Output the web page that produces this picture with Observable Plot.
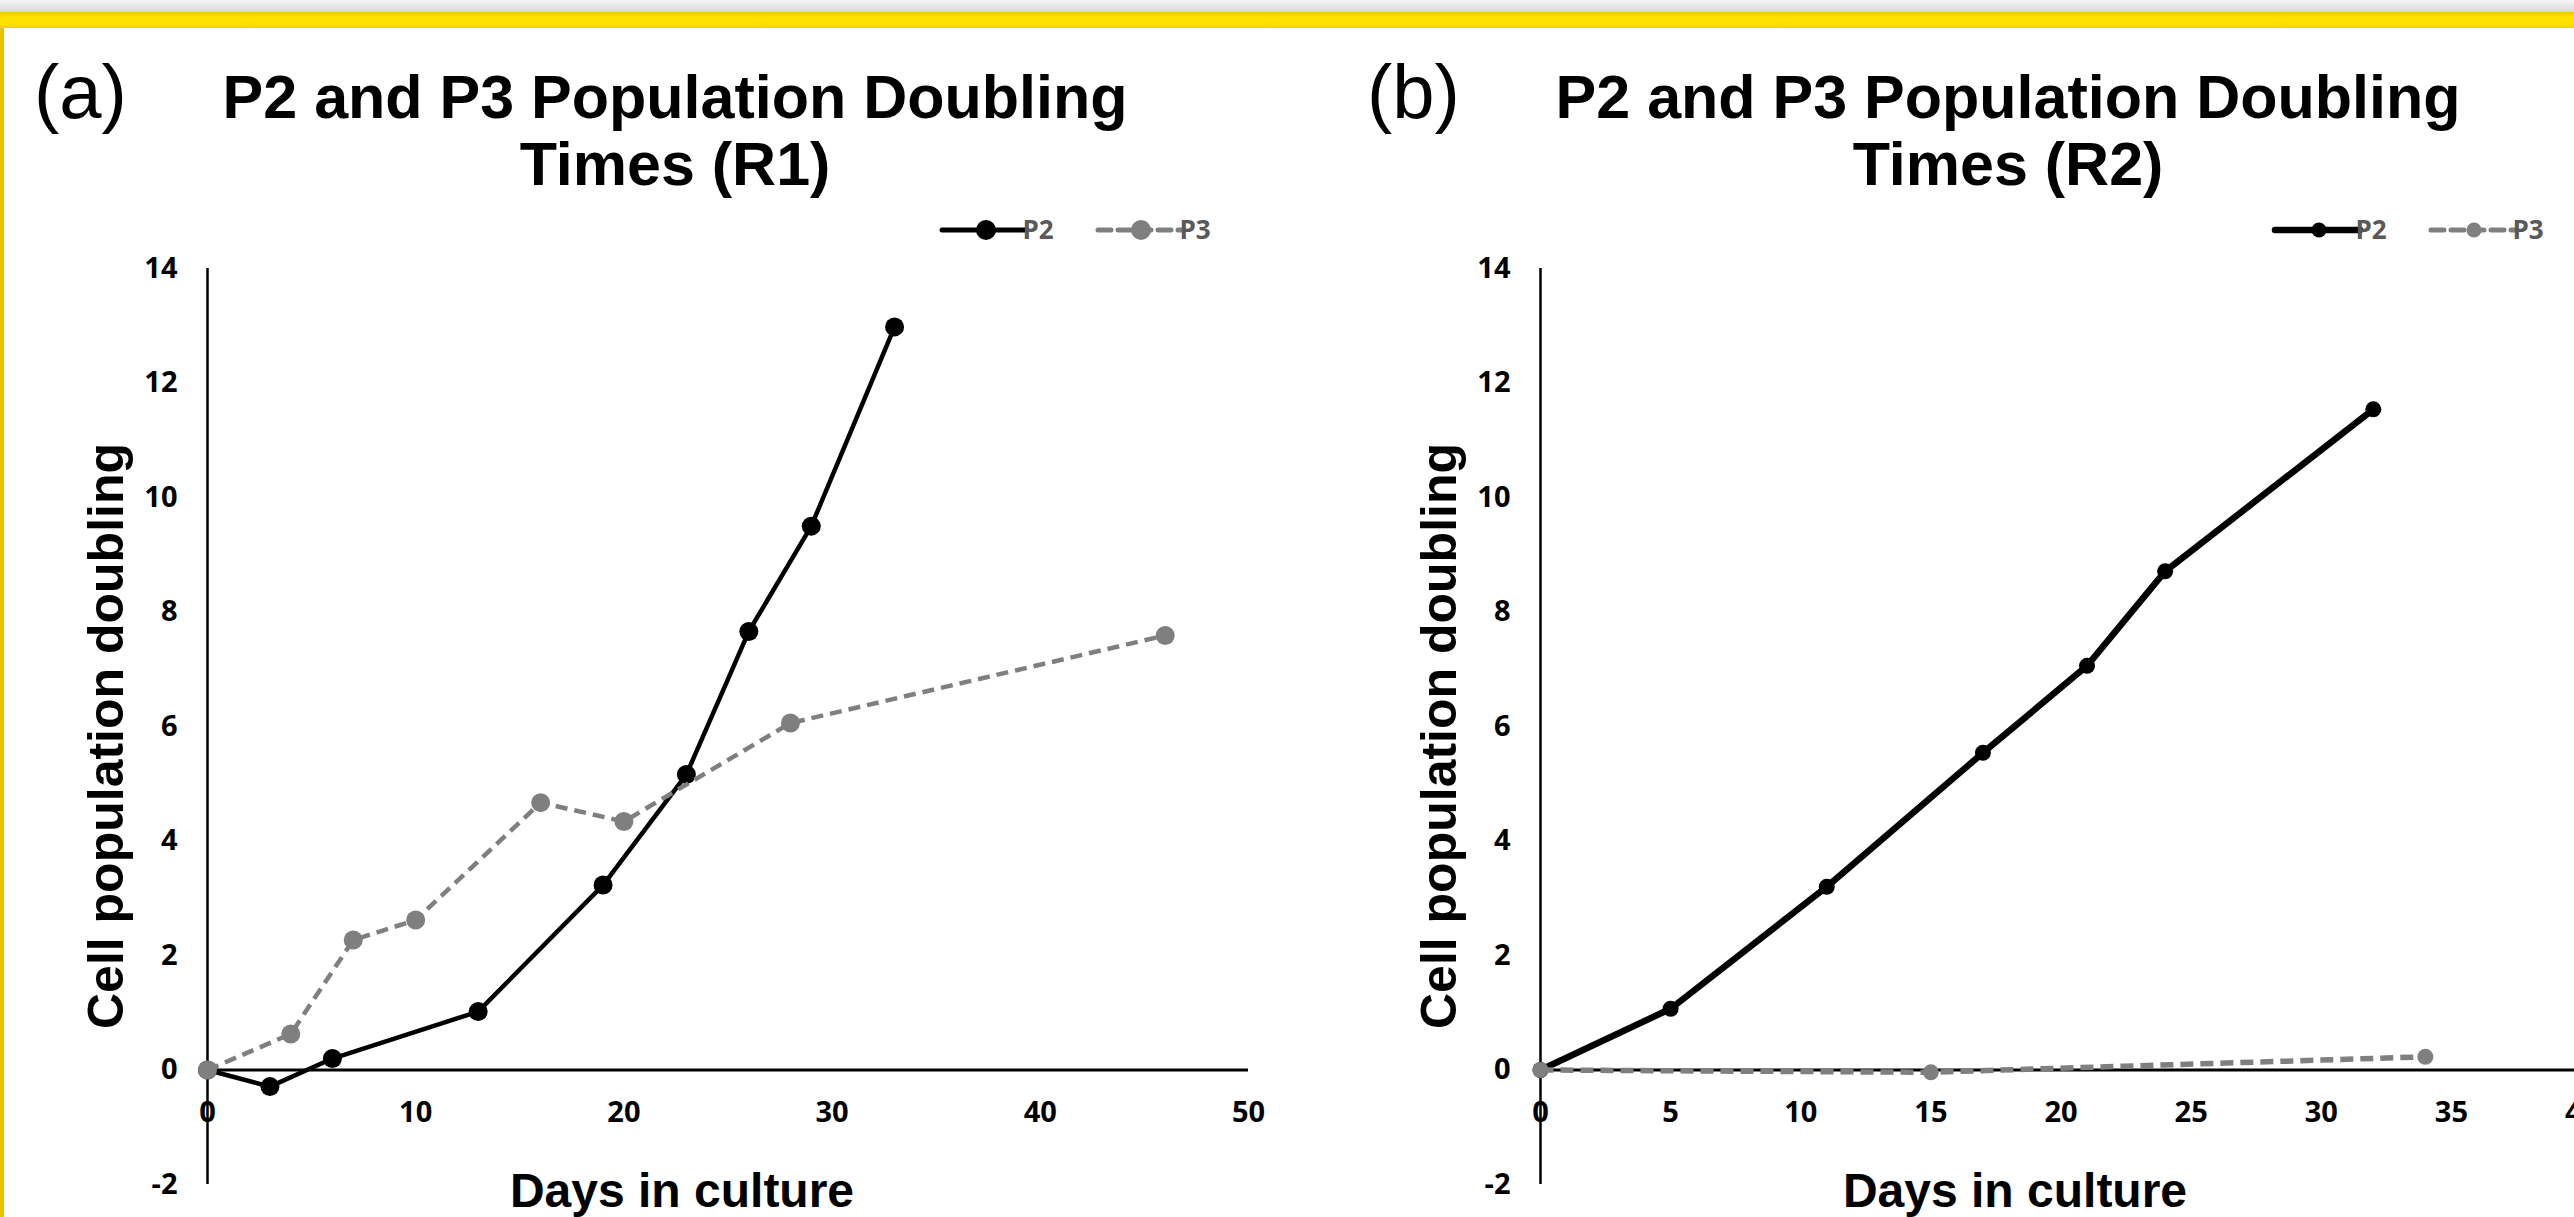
<!DOCTYPE html>
<html><head><meta charset="utf-8">
<script src="https://cdn.jsdelivr.net/npm/d3@7"></script>
<script src="https://cdn.jsdelivr.net/npm/@observablehq/plot@0.6"></script>
<style>
html,body{margin:0;padding:0;background:#fff;}
body{width:2574px;height:1217px;overflow:hidden;position:relative;}
#topbar{position:absolute;left:0;top:0;width:100%;height:12px;background:linear-gradient(#f6f6f6,#d9d9d9);}
#yellow{position:absolute;left:0;top:12px;width:100%;height:16px;background:linear-gradient(#efca00,#ffe200 35%,#ffe000 75%,#f2cf00);}
#leftbar{position:absolute;left:0;top:28px;width:4px;bottom:0;background:#e8c400;}
.panel{position:absolute;top:0;width:1300px;height:1217px;}
.panel svg{position:absolute;left:0;top:0;}
.tag{position:absolute;font-family:"Liberation Sans",Arial,sans-serif;font-size:76px;line-height:84px;white-space:nowrap;color:#000;}
.title{position:absolute;font-family:"Liberation Sans",Arial,sans-serif;font-weight:bold;font-size:61px;line-height:67px;text-align:center;white-space:nowrap;transform:translateX(-50%);color:#000;}
.ytitle{position:absolute;font-family:"Liberation Sans",Arial,sans-serif;font-weight:bold;font-size:50px;line-height:50px;white-space:nowrap;transform:translate(-50%,-50%) rotate(-90deg);color:#000;}
.xtitle{position:absolute;font-family:"Liberation Sans",Arial,sans-serif;font-weight:bold;font-size:48px;line-height:48px;white-space:nowrap;transform:translateX(-50%);color:#000;}
</style>
</head><body>
<div id="topbar"></div><div id="yellow"></div><div id="leftbar"></div>
<script>
// ---- data ----
const seriesNames = ["P2", "P3"];
const panelTags = ["(a)", "(b)"];
const titleLines_R1 = ["P2 and P3 Population Doubling", "Times (R1)"];
const titleLines_R2 = ["P2 and P3 Population Doubling", "Times (R2)"];
const xTitle = "Days in culture";
const yTitle = "Cell population doubling";

const days_R1_P2 = [0, 3, 6, 13, 19, 23, 26, 29, 33];
const pd_R1_P2   = [0, -0.29, 0.2, 1.02, 3.23, 5.16, 7.66, 9.5, 12.98];
const days_R1_P3 = [0, 4, 7, 10, 16, 20, 28, 46];
const pd_R1_P3   = [0, 0.63, 2.27, 2.62, 4.67, 4.34, 6.06, 7.59];

const days_R2_P2 = [0, 5, 11, 17, 21, 24, 32];
const pd_R2_P2   = [0, 1.07, 3.2, 5.54, 7.06, 8.71, 11.54];
const days_R2_P3 = [0, 15, 34];
const pd_R2_P3   = [0, -0.04, 0.23];

const yTicks = [-2, 0, 2, 4, 6, 8, 10, 12, 14];
const xTicks_R1 = [0, 10, 20, 30, 40, 50];
const xTicks_R2 = [0, 5, 10, 15, 20, 25, 30, 35, 40];

// ---- drawing ----
const BLACK = "#000000", GRAY = "#7f7f7f", LEGEND_TEXT = "#595959";
const tickFont = {fontFamily: "'Open Sans', 'Noto Sans', sans-serif", fontWeight: 700, fontSize: 29, fill: "#000"};

function rows(days, pd, s) { return days.map((d, i) => ({day: d, pd: pd[i], series: s})); }

function makePanel(cfg) {
  const div = document.createElement("div");
  div.className = "panel";
  div.style.left = cfg.left + "px";
  document.body.appendChild(div);

  const p2 = rows(cfg.p2x, cfg.p2y, seriesNames[0]);
  const p3 = rows(cfg.p3x, cfg.p3y, seriesNames[1]);

  const svg = Plot.plot({
    width: 1300, height: 1217,
    marginLeft: 207, marginRight: 52, marginTop: 268, marginBottom: 33,
    x: {domain: cfg.xDomain, axis: null},
    y: {domain: [-2, 14], axis: null},
    style: {background: "transparent", overflow: "visible"},
    marks: [
      Plot.ruleX([0], {stroke: BLACK, strokeWidth: 2.5}),
      Plot.ruleY([0], {stroke: BLACK, strokeWidth: 3}),
      Plot.text(yTicks, {y: d => d, frameAnchor: "left", dx: -30, textAnchor: "end", text: d => String(d), ...tickFont}),
      Plot.text(cfg.xTicks, {x: d => d, y: d => 0, dy: 43, textAnchor: "middle", text: d => String(d), ...tickFont}),
      Plot.line(p2, {x: "day", y: "pd", stroke: BLACK, strokeWidth: cfg.lw2, strokeLinejoin: "round"}),
      Plot.dot(p2, {x: "day", y: "pd", r: cfg.r, fill: BLACK, stroke: null}),
      Plot.line(p3, {x: "day", y: "pd", stroke: GRAY, strokeWidth: cfg.lw3, strokeDasharray: cfg.dash, strokeLinecap: "butt"}),
      Plot.dot(p3, {x: "day", y: "pd", r: cfg.r, fill: GRAY, stroke: null})
    ]
  });
  div.appendChild(svg);

  // legend
  const g = d3.select(svg).append("g");
  const ly = 230;
  g.append("line").attr("x1", 942).attr("x2", 1027).attr("y1", ly).attr("y2", ly)
    .attr("stroke", BLACK).attr("stroke-width", cfg.legLw2).attr("stroke-linecap", "round");
  g.append("circle").attr("cx", 986).attr("cy", ly).attr("r", cfg.legR).attr("fill", BLACK);
  g.append("text").attr("x", 1038).attr("y", ly + 9).text(seriesNames[0])
    .attr("font-family", "'Open Sans', sans-serif").attr("font-weight", 700).attr("font-size", 26).attr("fill", LEGEND_TEXT);
  g.append("line").attr("x1", 1098).attr("x2", 1184).attr("y1", ly).attr("y2", ly)
    .attr("stroke", GRAY).attr("stroke-width", cfg.legLw3).attr("stroke-dasharray", "13,7").attr("stroke-linecap", "round");
  g.append("circle").attr("cx", 1141).attr("cy", ly).attr("r", cfg.legR).attr("fill", GRAY);
  g.append("text").attr("x", 1195).attr("y", ly + 9).text(seriesNames[1])
    .attr("font-family", "'Open Sans', sans-serif").attr("font-weight", 700).attr("font-size", 26).attr("fill", LEGEND_TEXT);

  // texts
  const tag = document.createElement("div");
  tag.className = "tag"; tag.textContent = cfg.tag;
  tag.style.left = "34px"; tag.style.top = "50px";
  div.appendChild(tag);

  const title = document.createElement("div");
  title.className = "title";
  title.innerHTML = cfg.titleLines.join("<br>");
  title.style.left = "675px"; title.style.top = "64px";
  div.appendChild(title);

  const yt = document.createElement("div");
  yt.className = "ytitle"; yt.textContent = yTitle;
  yt.style.left = "106px"; yt.style.top = "736px";
  div.appendChild(yt);

  const xt = document.createElement("div");
  xt.className = "xtitle"; xt.textContent = xTitle;
  xt.style.left = "682px"; xt.style.top = "1167px";
  div.appendChild(xt);
}

makePanel({left: 0, tag: panelTags[0], titleLines: titleLines_R1, xDomain: [0, 50], xTicks: xTicks_R1,
  p2x: days_R1_P2, p2y: pd_R1_P2, p3x: days_R1_P3, p3y: pd_R1_P3,
  lw2: 4.5, lw3: 4.5, r: 9.5, dash: "12,7", legLw2: 5, legLw3: 5, legR: 10});
makePanel({left: 1333, tag: panelTags[1], titleLines: titleLines_R2, xDomain: [0, 40], xTicks: xTicks_R2,
  p2x: days_R2_P2, p2y: pd_R2_P2, p3x: days_R2_P3, p3y: pd_R2_P3,
  lw2: 6.5, lw3: 5.5, r: 8, dash: "13,7", legLw2: 6.5, legLw3: 5, legR: 7.5});
</script>
</body></html>
